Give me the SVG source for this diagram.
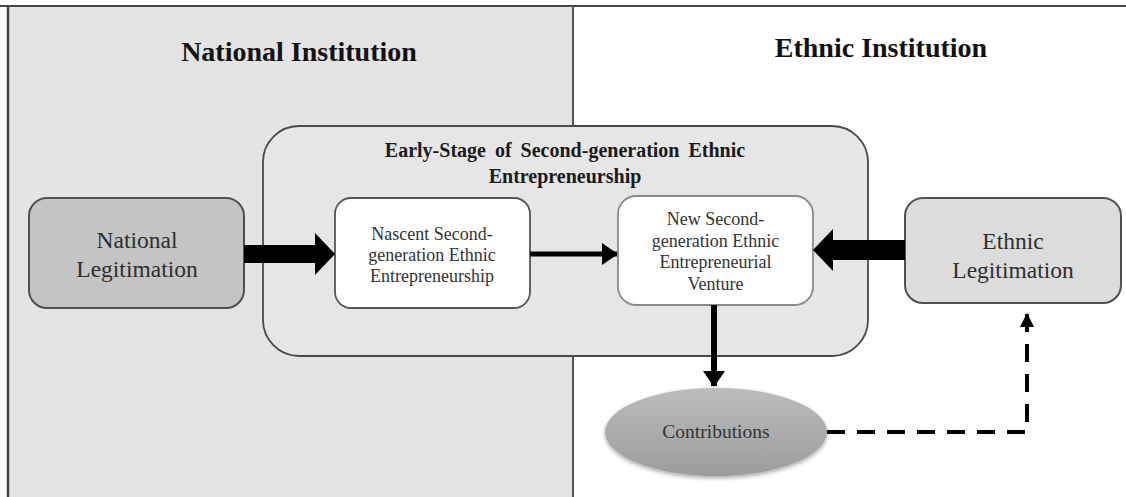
<svg xmlns="http://www.w3.org/2000/svg" width="1126" height="497" viewBox="0 0 1126 497">
  <style>
    .title { font-family: "Liberation Serif", "Times New Roman", serif; font-weight: bold; font-size: 28px; fill: #111; text-anchor: middle; }
    .group-title { font-family: "Liberation Serif", "Times New Roman", serif; font-weight: bold; font-size: 20px; fill: #1a1a1a; text-anchor: middle; word-spacing: 4px; }
    .big { font-family: "Liberation Serif", "Times New Roman", serif; font-size: 23.5px; fill: #2e2e2e; text-anchor: middle; }
    .small { font-family: "Liberation Serif", "Times New Roman", serif; font-size: 18px; fill: #333; text-anchor: middle; }
    .legit { stroke: #505050; stroke-width: 2; }
    .inner { fill: #ffffff; stroke-width: 1.8; }
    .thick { fill: #000; }
    .line { stroke: #000; fill: none; }
  </style>
  <defs>
    <linearGradient id="ellipseFill" x1="0" y1="0" x2="0" y2="1">
      <stop offset="0" stop-color="#bcbcbc"/>
      <stop offset="1" stop-color="#9c9c9c"/>
    </linearGradient>
    <filter id="soft" x="-10%" y="-10%" width="120%" height="130%">
      <feGaussianBlur in="SourceAlpha" stdDeviation="2"/>
      <feOffset dy="1.5"/>
      <feComponentTransfer><feFuncA type="linear" slope="0.35"/></feComponentTransfer>
      <feMerge><feMergeNode/><feMergeNode in="SourceGraphic"/></feMerge>
    </filter>
    <marker id="tipSmall" markerWidth="16" markerHeight="22" refX="15" refY="11" orient="auto" markerUnits="userSpaceOnUse">
      <path d="M0,0 L16,11 L0,22 Z" fill="#000"/>
    </marker>
    <marker id="tipDashed" markerWidth="14" markerHeight="14" refX="13" refY="7" orient="auto" markerUnits="userSpaceOnUse">
      <path d="M0,0 L14,7 L0,14 Z" fill="#000"/>
    </marker>
  </defs>

  <!-- background panels -->
  <g id="panels">
    <rect x="0" y="0" width="1126" height="497" fill="#ffffff"/>
    <rect x="8" y="6" width="565" height="491" fill="#e4e4e4"/>
    <line x1="0" y1="6" x2="1126" y2="6" stroke="#444" stroke-width="2"/>
    <line x1="8" y1="6" x2="8" y2="497" stroke="#444" stroke-width="2.5"/>
    <line x1="573" y1="6" x2="573" y2="497" stroke="#555" stroke-width="2"/>
    <text class="title" x="299" y="61">National Institution</text>
    <text class="title" x="881" y="57">Ethnic Institution</text>
  </g>

  <!-- early-stage container -->
  <g id="early-stage">
    <rect x="263" y="126" width="605" height="230" rx="36" ry="36" fill="#e6e6e6" stroke="#4a4a4a" stroke-width="1.8"/>
    <text class="group-title" x="565" y="157">Early-Stage of Second-generation Ethnic</text>
    <text class="group-title" x="565" y="183">Entrepreneurship</text>
  </g>

  <g id="national-legitimation">
    <rect class="legit" x="29" y="198" width="215" height="110" rx="18" ry="18" fill="#c4c4c4"/>
    <text class="big" x="137" y="248">National</text>
    <text class="big" x="137" y="277">Legitimation</text>
  </g>

  <g id="nascent">
    <rect class="inner" x="335" y="198" width="195" height="110" rx="16" ry="16" stroke="#555"/>
    <text class="small" x="432" y="240">Nascent Second-</text>
    <text class="small" x="432" y="261">generation Ethnic</text>
    <text class="small" x="432" y="282">Entrepreneurship</text>
  </g>

  <g id="venture">
    <rect class="inner" x="618" y="196" width="195" height="109" rx="18" ry="18" stroke="#8a8a8a"/>
    <text class="small" x="715.5" y="225">New Second-</text>
    <text class="small" x="715.5" y="246.5">generation Ethnic</text>
    <text class="small" x="715.5" y="268">Entrepreneurial</text>
    <text class="small" x="715.5" y="289.5">Venture</text>
  </g>

  <g id="ethnic-legitimation">
    <rect class="legit" x="905" y="198" width="216" height="105" rx="18" ry="18" fill="#dcdcdc"/>
    <text class="big" x="1013" y="249">Ethnic</text>
    <text class="big" x="1013" y="278">Legitimation</text>
  </g>

  <g id="contributions">
    <ellipse cx="716" cy="432" rx="111" ry="44" fill="url(#ellipseFill)" filter="url(#soft)"/>
    <text class="small" x="716" y="438" style="font-size:19.5px">Contributions</text>
  </g>

  <!-- connectors -->
  <g id="connectors">
    <!-- national legitimation to nascent: block arrow -->
    <path class="thick" d="M244,245 L315,245 L315,233 L335,254 L315,275 L315,263 L244,263 Z"/>
    <!-- ethnic legitimation to venture: block arrow -->
    <path class="thick" d="M905,240 L833,240 L833,229 L813,250 L833,271 L833,260 L905,260 Z"/>
    <!-- nascent to venture -->
    <line class="line" x1="530" y1="254" x2="617" y2="254" stroke-width="5" marker-end="url(#tipSmall)"/>
    <!-- venture to contributions -->
    <line class="line" x1="714" y1="305" x2="714" y2="386" stroke-width="6" marker-end="url(#tipSmall)"/>
    <!-- contributions feeds back to ethnic legitimation -->
    <path class="line" d="M827,432 L1027,432 L1027,314" stroke-width="4" stroke-dasharray="18 12" marker-end="url(#tipDashed)"/>
  </g>
</svg>
